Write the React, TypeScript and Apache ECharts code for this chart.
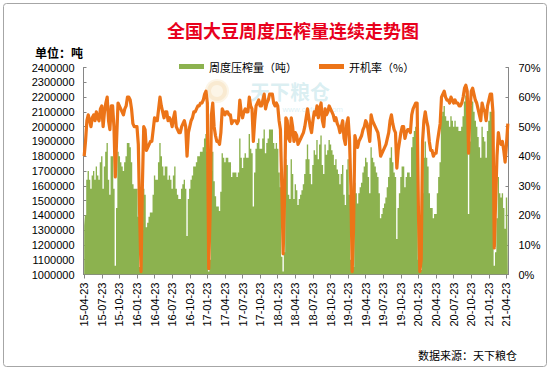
import React, { useEffect, useRef } from 'react';
import * as echarts from 'echarts';

const tickLabels = [
  '15-04-23', '15-07-23', '15-10-23', '16-01-23', '16-04-23', '16-07-23', '16-10-23',
  '17-01-23', '17-04-23', '17-07-23', '17-10-23', '18-01-23', '18-04-23', '18-07-23',
  '18-10-23', '19-01-23', '19-04-23', '19-07-23', '19-10-23', '20-01-23', '20-04-23',
  '20-07-23', '20-10-23', '21-01-23', '21-04-23',
];

// weekly crush volume (tons)
const crushVolume = [
  1330000, 1400000, 1640000, 1700000, 1640000, 1580000, 1670000, 1700000, 1640000, 1730000, 1670000, 1640000, 1760000,
  1800000, 1580000, 1730000, 1830000, 1890000, 1640000, 1540000, 1800000, 1800000, 1580000, 1060000, 1450000, 1830000,
  1800000, 1760000, 1730000, 1700000, 1760000, 1800000, 1890000, 1890000, 1860000, 1760000, 1610000, 1580000, 1580000,
  1580000, 1390000, 1050000, 1010000, 1300000, 1580000, 1540000, 1320000, 1350000, 1390000, 1420000, 1420000, 1540000,
  1670000, 1640000, 1640000, 1760000, 1890000, 1800000, 1730000, 1670000, 1730000, 1730000, 1640000, 1670000, 1640000,
  1580000, 1670000, 1730000, 1580000, 1540000, 1510000, 1510000, 1580000, 1610000, 1640000, 1580000, 1260000, 1510000,
  1580000, 1640000, 1670000, 1730000, 1730000, 1760000, 1800000, 1800000, 1830000, 1830000, 1860000, 1920000, 1950000,
  1830000, 1020000, 1100000, 1700000, 1830000, 1630000, 1530000, 1460000, 1460000, 1430000, 1560000, 1820000, 1790000,
  1760000, 1790000, 1790000, 1760000, 1760000, 1660000, 1690000, 1690000, 1690000, 1660000, 1690000, 1920000, 1790000,
  1720000, 1790000, 1820000, 1790000, 1790000, 1950000, 1850000, 1820000, 1460000, 1690000, 1850000, 1890000, 1920000,
  1850000, 1850000, 1920000, 1980000, 1820000, 1890000, 1920000, 1980000, 1980000, 1980000, 1890000, 1850000, 1890000,
  1850000, 1690000, 1590000, 1120000, 1020000, 1150000, 1780000, 1740000, 1540000, 1510000, 1780000, 1680000, 1510000,
  1610000, 1570000, 1470000, 1510000, 1540000, 1570000, 1610000, 1680000, 1780000, 1880000, 1780000, 1680000, 1610000,
  1740000, 1840000, 1810000, 1910000, 1780000, 1880000, 1940000, 1740000, 1680000, 1880000, 1810000, 1840000, 1910000,
  1880000, 1840000, 1810000, 1740000, 1780000, 1710000, 1680000, 1610000, 1680000, 1740000, 1540000, 1470000, 1710000,
  1780000, 1540000, 1100000, 1010000, 1050000, 1620000, 1550000, 1480000, 1550000, 1590000, 1620000, 1690000, 1730000,
  1790000, 1760000, 1660000, 1550000, 1860000, 1790000, 1760000, 1730000, 1690000, 1660000, 1550000, 1380000, 1410000,
  1450000, 1480000, 1520000, 1590000, 1660000, 1790000, 1860000, 1760000, 1690000, 1660000, 1240000, 1450000, 1550000,
  1660000, 1730000, 1730000, 1590000, 1660000, 1690000, 1690000, 1660000, 1860000, 1930000, 1970000, 2000000, 2000000,
  1100000, 1010000, 1030000, 1550000, 1790000, 1900000, 1790000, 1730000, 1550000, 1450000, 1450000, 1380000, 1410000,
  1410000, 1550000, 1660000, 1760000, 2070000, 2100000, 2140000, 2070000, 2040000, 2040000, 2000000, 2070000, 2040000,
  2000000, 2040000, 2000000, 2000000, 1970000, 1970000, 2000000, 2070000, 2170000, 2210000, 2140000, 1410000, 1900000,
  2140000, 2170000, 2100000, 2040000, 2000000, 1930000, 1860000, 1790000, 2000000, 1930000, 1900000, 1790000, 1970000,
  2040000, 2100000, 2100000, 1900000, 1060000, 1150000, 1380000, 1660000, 1550000, 1520000, 1550000, 1450000, 1310000,
  1520000, 1600000,
];

// weekly operating rate (%)
const operatingRate = [
  40, 45, 52, 54, 52, 50, 53, 54, 52, 55, 53, 52, 56,
  57, 50, 55, 58, 60, 52, 49, 57, 57, 50, 33, 46, 58,
  57, 56, 55, 54, 56, 57, 60, 60, 59, 56, 51, 50, 50,
  50, 44, 20, 1, 30, 50, 49, 42, 43, 44, 45, 45, 49,
  53, 52, 52, 56, 60, 57, 55, 53, 55, 55, 52, 53, 52,
  50, 53, 55, 50, 49, 48, 48, 50, 51, 52, 50, 40, 48,
  50, 52, 53, 55, 55, 56, 57, 57, 58, 58, 59, 61, 62,
  58, 2, 20, 54, 58, 50, 47, 45, 45, 44, 48, 56, 55,
  54, 55, 55, 54, 54, 51, 52, 52, 52, 51, 52, 59, 55,
  53, 55, 56, 55, 55, 60, 57, 56, 45, 52, 57, 58, 59,
  57, 57, 59, 61, 56, 58, 59, 61, 61, 61, 58, 57, 58,
  57, 52, 49, 30, 7, 25, 53, 52, 46, 45, 53, 50, 45,
  48, 47, 44, 45, 46, 47, 48, 50, 53, 56, 53, 50, 48,
  52, 55, 54, 57, 53, 56, 58, 52, 50, 56, 54, 55, 57,
  56, 55, 54, 52, 53, 51, 50, 48, 50, 52, 46, 44, 51,
  53, 46, 30, 1, 15, 47, 45, 43, 45, 46, 47, 49, 50,
  52, 51, 48, 45, 54, 52, 51, 50, 49, 48, 45, 40, 41,
  42, 43, 44, 46, 48, 52, 54, 51, 49, 48, 36, 42, 45,
  48, 50, 50, 46, 48, 49, 49, 48, 54, 56, 57, 58, 58,
  20, 1, 5, 45, 52, 55, 52, 50, 45, 42, 42, 40, 41,
  41, 45, 48, 51, 60, 61, 62, 60, 59, 59, 58, 60, 59,
  58, 59, 58, 58, 57, 57, 58, 60, 63, 64, 62, 41, 55,
  62, 63, 61, 59, 58, 56, 54, 52, 58, 56, 55, 52, 57,
  59, 61, 61, 55, 9, 25, 40, 48, 45, 44, 45, 42, 38,
  44, 51,
];

const weekIds = crushVolume.map((_, i) => 'W' + i);

const CJK = "'Noto Sans CJK SC', 'Noto Sans', sans-serif";
const NUM = "'Liberation Sans', Arial, sans-serif";
const GREEN = '#8CB24F';
const ORANGE = '#EC7418';

export default function App() {
  const ref = useRef<HTMLDivElement>(null);

  useEffect(() => {
    const chart = echarts.init(ref.current as HTMLDivElement, null, { renderer: 'svg' });
    chart.setOption({
      animation: false,
      backgroundColor: '#ffffff',
      grid: { left: 83.5, right: 41.5, top: 67.5, bottom: 95.5, containLabel: false },
      legend: {
        left: 174,
        top: 56,
        itemWidth: 25,
        itemHeight: 5,
        itemGap: 22,
        textStyle: { fontSize: 11, color: '#000', fontFamily: CJK },
        data: [
          { name: '周度压榨量（吨）', icon: 'rect', itemStyle: { color: GREEN } },
          { name: '开机率（%）', icon: 'rect', itemStyle: { color: ORANGE } },
        ],
      },
      xAxis: {
        type: 'category',
        data: weekIds,
        boundaryGap: true,
        axisLine: { show: true, lineStyle: { color: '#868686', width: 1 } },
        axisTick: { show: true, interval: 12, alignWithLabel: true, length: 4, lineStyle: { color: '#868686' } },
        axisLabel: {
          interval: 12,
          rotate: 90,
          fontSize: 11,
          color: '#000',
          fontFamily: NUM,
          margin: 8,
          formatter: (_v: string, i: number) => tickLabels[Math.round(i / 13)] ?? '',
        },
        splitLine: { show: false },
      },
      yAxis: [
        {
          type: 'value',
          min: 1000000,
          max: 2400000,
          interval: 100000,
          position: 'left',
          axisLine: { show: true, lineStyle: { color: '#868686' } },
          axisTick: { show: true, inside: true, length: 3, lineStyle: { color: '#868686' } },
          splitLine: { show: false },
          axisLabel: {
            color: '#000',
            fontSize: 11,
            fontFamily: NUM,
            margin: 9,
            formatter: (v: number) => String(Math.round(v)),
          },
        },
        {
          type: 'value',
          min: 0,
          max: 70,
          interval: 10,
          position: 'right',
          axisLine: { show: true, lineStyle: { color: '#868686' } },
          axisTick: { show: true, inside: true, length: 3, lineStyle: { color: '#868686' } },
          splitLine: { show: false },
          axisLabel: { color: '#000', fontSize: 11, fontFamily: NUM, margin: 10, formatter: '{value}%' },
        },
      ],
      series: [
        {
          name: '周度压榨量（吨）',
          type: 'line',
          step: 'middle',
          yAxisIndex: 0,
          data: crushVolume,
          symbol: 'none',
          showSymbol: false,
          clip: true,
          lineStyle: { width: 0, color: GREEN },
          itemStyle: { color: GREEN },
          areaStyle: { color: GREEN, opacity: 1, origin: 'start' },
          z: 2,
        },
        {
          name: '开机率（%）',
          type: 'line',
          yAxisIndex: 1,
          data: operatingRate,
          symbol: 'none',
          showSymbol: false,
          lineStyle: { color: ORANGE, width: 3.2, join: 'round' },
          itemStyle: { color: ORANGE },
          z: 3,
        },
      ],
      graphic: [
        {
          type: 'rect',
          silent: true,
          z: 100,
          shape: { x: 3.5, y: 3.5, width: 543, height: 363, r: 3 },
          style: { fill: 'none', stroke: '#A6A6A6', lineWidth: 1 },
        },
        {
          type: 'group',
          silent: true,
          z: 1,
          children: [
            {
              type: 'circle',
              shape: { cx: 217, cy: 91, r: 12 },
              style: { fill: 'rgba(245, 215, 160, 0.25)' },
            },
            {
              type: 'ring',
              shape: { cx: 217, cy: 91, r: 10, r0: 6 },
              style: { fill: 'rgba(240, 195, 130, 0.22)' },
            },
            {
              type: 'text',
              x: 250,
              y: 91,
              style: {
                text: '天下粮仓',
                fill: 'rgba(140, 205, 215, 0.32)',
                fontSize: 20,
                fontWeight: 'bold',
                fontFamily: CJK,
                align: 'left',
                verticalAlign: 'middle',
              },
            },
            {
              type: 'text',
              x: 343,
              y: 109,
              style: {
                text: 'www.cofeed.com',
                fill: 'rgba(140, 205, 215, 0.32)',
                fontSize: 8,
                fontFamily: NUM,
                align: 'right',
                verticalAlign: 'middle',
              },
            },
          ],
        },
        {
          type: 'text',
          x: 293,
          y: 30,
          z: 10,
          style: {
            text: '全国大豆周度压榨量连续走势图',
            fill: '#E8001C',
            fontSize: 18,
            fontWeight: 'bold',
            fontFamily: CJK,
            align: 'center',
            verticalAlign: 'middle',
          },
        },
        {
          type: 'text',
          x: 35,
          y: 52,
          z: 10,
          style: {
            text: '单位：吨',
            fill: '#000',
            fontSize: 12,
            fontWeight: 'bold',
            fontFamily: CJK,
            align: 'left',
            verticalAlign: 'middle',
          },
        },
        {
          type: 'text',
          x: 517,
          y: 355,
          z: 10,
          style: {
            text: '数据来源：天下粮仓',
            fill: '#000',
            fontSize: 11,
            fontFamily: CJK,
            align: 'right',
            verticalAlign: 'middle',
          },
        },
      ],
    });
    return () => {
      chart.dispose();
    };
  }, []);

  return (
    <div
      ref={ref}
      style={{ position: 'absolute', left: 0, top: 0, width: 550, height: 370, background: '#fff' }}
    />
  );
}
